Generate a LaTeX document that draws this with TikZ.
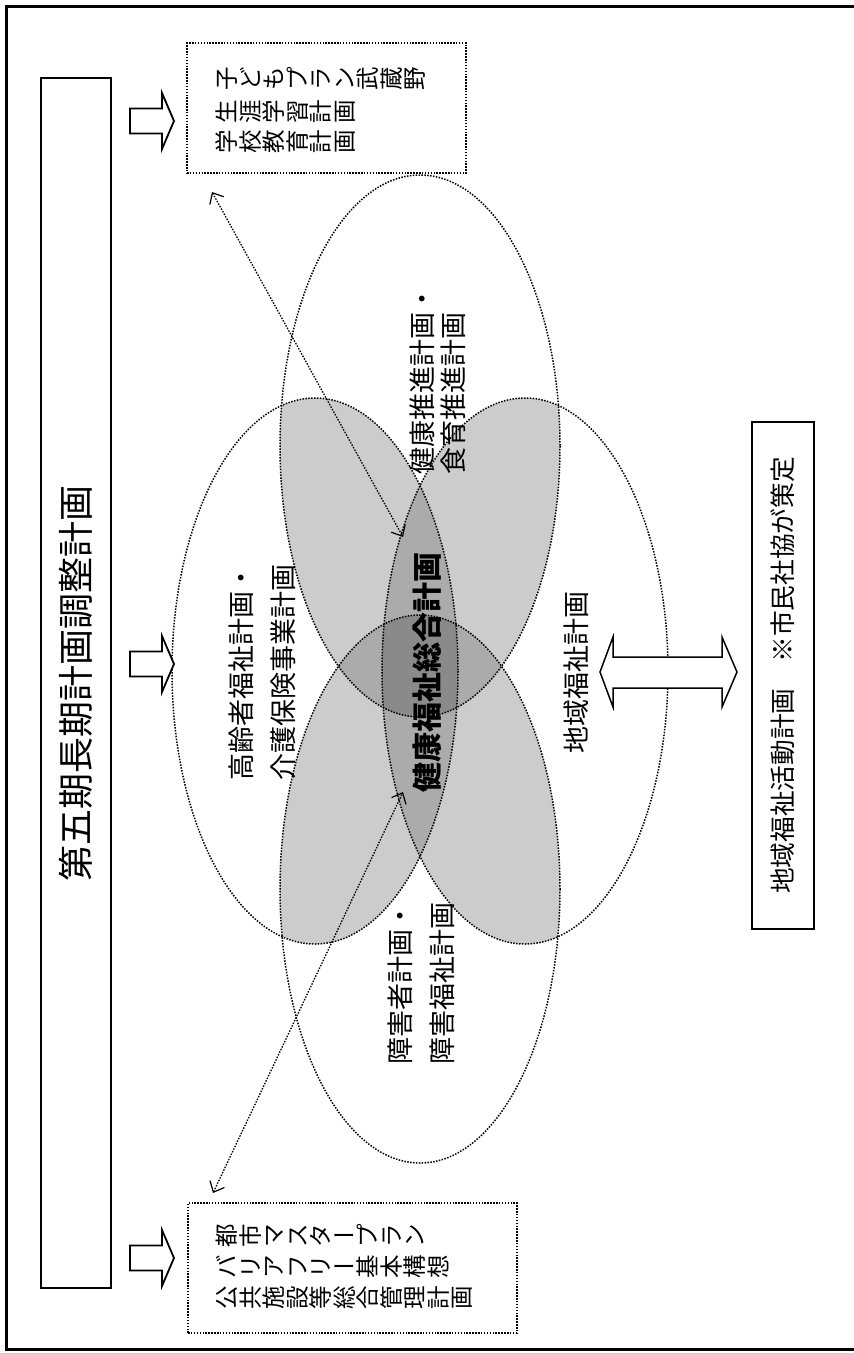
\documentclass[tikz,border=0pt]{standalone}
\usepackage{fontspec}
\usepackage{graphicx}
\newfontfamily\jp{Noto Sans CJK JP}
\usetikzlibrary{arrows.meta}
\makeatletter
\newcommand\vrow[1]{\vr@w#1\@nil}
\def\vr@w#1{\ifx#1\@nil\else\vch{#1}\expandafter\vr@w\fi}
\makeatother
\newcommand\vch[1]{\ifx#1ー\raisebox{0.12em}{ー}\else\rotatebox{90}{\rule[-0.12em]{0pt}{1em}#1}\fi}
\newcommand\eT{(420,446) ellipse [x radius=140, y radius=271]}
\newcommand\eB{(420,889) ellipse [x radius=140, y radius=274]}
\newcommand\eL{(315,671) ellipse [x radius=143, y radius=273]}
\newcommand\eR{(525,671) ellipse [x radius=143, y radius=273]}
\begin{document}
\begin{tikzpicture}[x=1pt,y=-1pt,
  dotline/.style={dash pattern=on 1.5pt off 1.4pt, line width=1.5pt},
  lbl/.style={rotate=90, anchor=west, inner sep=0pt, font=\jp\fontsize{27}{27}\selectfont},
  rowtxt/.style={anchor=west, inner sep=0pt, font=\jp\fontsize{23.5}{23.5}\selectfont},
  hollow/.style={draw, line width=1.8pt, fill=white, line join=miter},
  shtwo/.style={fill=black!20},
  shthree/.style={fill=black!33},
  shfour/.style={fill=black!46},
  barb/.style={dotline, line width=1.3pt, {Straight Barb[length=9pt,width=16pt,line width=1.2pt]}-{Straight Barb[length=9pt,width=16pt,line width=1.2pt]}}]
\useasboundingbox (0,0) rectangle (854,1353);
\fill[white] (0,0) rectangle (854,1353);
% outer frame
\draw[line width=3pt] (854,6) -- (6,6) -- (6,1349) -- (854,1349);
% shading of overlaps
\begin{scope}\clip \eT; \fill[shtwo] \eL; \fill[shtwo] \eR; \fill[shtwo] \eB; \end{scope}
\begin{scope}\clip \eB; \fill[shtwo] \eL; \fill[shtwo] \eR; \end{scope}
\begin{scope}\clip \eL; \fill[shtwo] \eR; \end{scope}
\begin{scope}\clip \eL; \clip \eR; \fill[shthree] \eT; \fill[shthree] \eB; \end{scope}
\begin{scope}\clip \eT; \clip \eB; \fill[shthree] \eL; \fill[shthree] \eR; \end{scope}
\begin{scope}\clip \eT; \clip \eB; \clip \eL; \fill[shfour] \eR; \end{scope}
% ellipse outlines
\draw[dotline] \eT;
\draw[dotline] \eB;
\draw[dotline] \eL;
\draw[dotline] \eR;
% title box
\node[draw, line width=2pt, rotate=90, minimum width=1210pt, minimum height=70pt, inner sep=0pt,
  font=\jp\fontsize{36}{36}\selectfont] (title) at (76,683) {第五期長期計画調整計画};
% hollow arrows
\newcommand\harrow[1]{\draw[hollow,shift={(0,#1)}] (130,-12.5) -- (162,-12.5) -- (162,-28) -- (174,0) -- (162,28) -- (162,12.5) -- (130,12.5) -- cycle;}
\harrow{121}
\harrow{664}
\harrow{1258}
% top box
\node[draw, dotline, minimum width=279pt, minimum height=130pt, inner sep=0pt] (kbox) at (326.5,108) {};
\node[rowtxt] (k1) at (215,79) {\vrow{子どもプラン武蔵野}};
\node[rowtxt] (k2) at (215,112) {\vrow{生涯学習計画}};
\node[rowtxt] (k3) at (215,142) {\vrow{学校教育計画}};
% bottom box
\node[draw, dotline, minimum width=329pt, minimum height=130pt, inner sep=0pt] (tbox) at (352.5,1268) {};
\node[rowtxt] (t1) at (215,1236) {\vrow{都市マスタープラン}};
\node[rowtxt] (t2) at (215,1267) {\vrow{バリアフリー基本構想}};
\node[rowtxt] (t3) at (215,1298) {\vrow{公共施設等総合管理計画}};
% ellipse labels
\node[lbl] (h1) at (422,475) {健康推進計画・};
\node[lbl] (h2) at (453,475) {食育推進計画};
\node[lbl] (o1) at (241,781) {高齢者福祉計画・};
\node[lbl] (o2) at (283,781) {介護保険事業計画};
\node[lbl] (d1) at (400,1065) {障害者計画・};
\node[lbl] (d2) at (442,1065) {障害福祉計画};
\node[lbl] (c1) at (576,754) {地域福祉計画};
\node[lbl, font=\jp\bfseries\fontsize{30}{30}\selectfont] (center) at (427,793) {健康福祉総合計画};
% double arrow
\draw[hollow, line width=1.5pt] (600,672) -- (613,637) -- (613,657) -- (722,657) -- (722,637) -- (737,672) -- (722,707) -- (722,688) -- (613,688) -- (613,707) -- cycle;
% activity plan box
\node[draw, line width=1.5pt, rotate=90, minimum width=507pt, minimum height=62pt, inner sep=0pt,
  font=\jp\fontsize{25.7}{25.7}\selectfont] (act) at (783,675.5) {地域福祉活動計画　※市民社協が策定};
% dotted double-headed arrows
\coordinate (a1) at (212,192);
\coordinate (a2) at (403,537);
\coordinate (b1) at (213,1193);
\coordinate (b2) at (403,792);
\draw[barb] (a1) -- (a2);
\draw[barb] (b1) -- (b2);
\end{tikzpicture}
\end{document}
